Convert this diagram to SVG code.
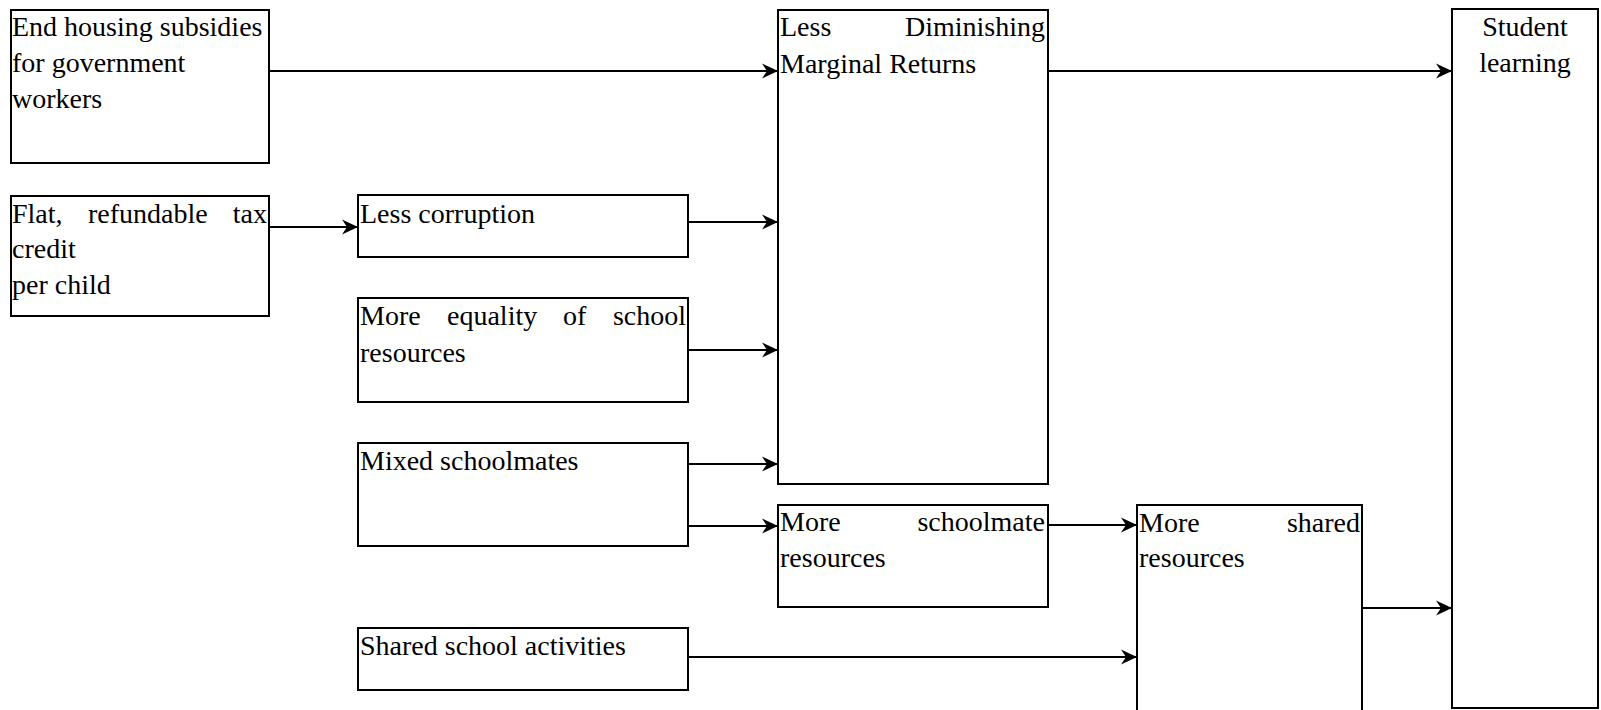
<svg xmlns="http://www.w3.org/2000/svg" width="1601" height="710" viewBox="0 0 1601 710">
<defs>
<style>
.box{fill:#fff;stroke:#000;stroke-width:2}
.t{font-family:"Liberation Serif","Times New Roman",serif;font-size:28px;fill:#000}
.e{text-anchor:end}
.m{text-anchor:middle}
.c{fill:none;stroke:#000;stroke-width:2.2;marker-end:url(#ah)}
</style>
<marker id="ah" markerUnits="userSpaceOnUse" markerWidth="18" markerHeight="16" refX="16" refY="8" orient="auto">
<path d="M16,8 L0,0.5 L5,8 L0,15.5 Z" fill="#000"/>
</marker>
</defs>
<rect width="1601" height="710" fill="#fff"/>
<g id="n1"><rect class="box" x="11" y="10" width="258" height="153"/>
<text class="t" x="12" y="36">End housing subsidies</text>
<text class="t" x="12" y="72">for government</text>
<text class="t" x="12" y="108">workers</text></g>
<g id="n2"><rect class="box" x="11" y="196" width="258" height="120"/>
<text class="t" y="223"><tspan x="12">Flat,</tspan><tspan x="88">refundable</tspan></text>
<text class="t e" x="267" y="223">tax</text>
<text class="t" x="12" y="258">credit</text>
<text class="t" x="12" y="294">per child</text></g>
<g id="n3"><rect class="box" x="358" y="195" width="330" height="62"/>
<text class="t" x="360" y="223">Less corruption</text></g>
<g id="n4"><rect class="box" x="358" y="298" width="330" height="104"/>
<text class="t" y="325"><tspan x="360">More</tspan><tspan x="447">equality</tspan><tspan x="563">of</tspan></text>
<text class="t e" x="686" y="325">school</text>
<text class="t" x="360" y="362">resources</text></g>
<g id="n5"><rect class="box" x="358" y="443" width="330" height="103"/>
<text class="t" x="360" y="470">Mixed schoolmates</text></g>
<g id="n6"><rect class="box" x="358" y="628" width="330" height="62"/>
<text class="t" x="360" y="655">Shared school activities</text></g>
<g id="n7"><rect class="box" x="778" y="10" width="270" height="474"/>
<text class="t" x="780" y="36">Less</text>
<text class="t e" x="1045" y="36">Diminishing</text>
<text class="t" x="780" y="73">Marginal Returns</text></g>
<g id="n8"><rect class="box" x="778" y="505" width="270" height="102"/>
<text class="t" x="780" y="531">More</text>
<text class="t e" x="1045" y="531">schoolmate</text>
<text class="t" x="780" y="567">resources</text></g>
<g id="n9"><rect class="box" x="1137" y="505" width="225" height="215"/>
<text class="t" x="1139" y="532">More</text>
<text class="t e" x="1360" y="532">shared</text>
<text class="t" x="1139" y="567">resources</text></g>
<g id="n10"><rect class="box" x="1452" y="9" width="146" height="699"/>
<text class="t m" x="1525" y="36">Student</text>
<text class="t m" x="1525" y="72">learning</text></g>
<g id="connectors">
<line class="c" x1="269" y1="71" x2="778" y2="71"/>
<line class="c" x1="1048" y1="71" x2="1452" y2="71"/>
<line class="c" x1="269" y1="227" x2="358" y2="227"/>
<line class="c" x1="688" y1="222" x2="778" y2="222"/>
<line class="c" x1="688" y1="350" x2="778" y2="350"/>
<line class="c" x1="688" y1="464" x2="778" y2="464"/>
<line class="c" x1="688" y1="526" x2="778" y2="526"/>
<line class="c" x1="1048" y1="525" x2="1137" y2="525"/>
<line class="c" x1="1362" y1="608" x2="1452" y2="608"/>
<line class="c" x1="688" y1="657" x2="1137" y2="657"/>
</g>
</svg>
